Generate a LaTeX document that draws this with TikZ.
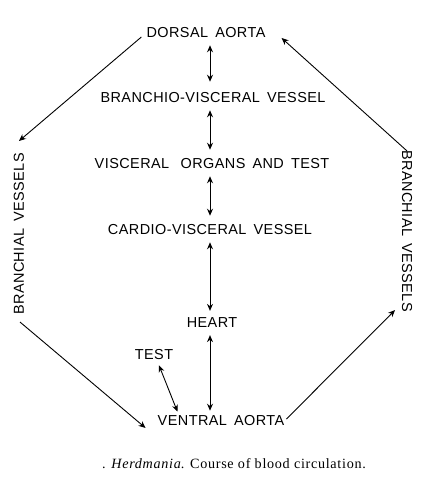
\documentclass[tikz,border=0pt]{standalone}
\usepackage{fontspec}
\setmainfont{Liberation Sans}
\newfontfamily\labfont[LetterSpace=3,WordSpace=1.6]{Liberation Sans}
\newfontfamily\capfont[LetterSpace=5]{Liberation Serif}
\usetikzlibrary{positioning,calc,arrows.meta}
\tikzset{>={Stealth[length=7pt,width=6pt]}}
\tikzset{
  organ/.style={font=\labfont\fontsize{14.5}{16}\selectfont,inner sep=2pt},
  flow/.style={->,line width=0.9pt},
  both/.style={<->,line width=0.9pt}
}

\begin{document}
\begin{tikzpicture}[x=1bp,y=-1bp]
\useasboundingbox (0,0) rectangle (436,489);
% Organs down the middle
\node[organ] (dorsal) at (206,33) {DORSAL AORTA};
\node[organ] (branchio) at (213,98) {BRANCHIO-VISCERAL VESSEL};
\node[organ] (visceral) at (212,164) {VISCERAL\hspace{0.3em} ORGANS AND TEST};
\node[organ] (cardio) at (210,230) {CARDIO-VISCERAL VESSEL};
\node[organ] (heart) at (212,323) {HEART};
\node[organ] (test) at (154,355) {TEST};
\node[organ] (ventral) at (221,421) {VENTRAL AORTA};
\coordinate (axis) at (210,0);

% Branchial vessels on both sides
\node[organ,rotate=90] (leftbr) at (19,234) {BRANCHIAL VESSELS};
\node[organ,rotate=-90] (rightbr) at (407,231) {BRANCHIAL VESSELS};

% Caption
\node[font=\capfont\fontsize{14.2}{16}\selectfont] (caption) at (234,464)
  {. \textit{Herdmania}. Course of blood circulation.};

% Vertical exchanges
\draw[both] ([yshift=-5pt]dorsal.south -| axis) -- ([yshift=9pt]branchio.north -| axis);
\draw[both] ([yshift=-5pt]branchio.south -| axis) -- ([yshift=7pt]visceral.north -| axis);
\draw[both] ([yshift=-5pt]visceral.south -| axis) -- ([yshift=7pt]cardio.north -| axis);
\draw[both] ([yshift=-5pt]cardio.south -| axis) -- ([yshift=5pt]heart.north -| axis);
\draw[both] ([yshift=-5pt]heart.south -| axis) -- ([yshift=3pt]ventral.north -| axis);
\coordinate (vt) at ([xshift=22pt,yshift=2pt]ventral.north west);
\draw[both] ([xshift=5pt,yshift=-3pt]test.south) -- (vt);

% Round the outside
\coordinate (dl) at ([xshift=-3pt,yshift=-4pt]dorsal.west);
\coordinate (dr) at ([xshift=14pt,yshift=-5pt]dorsal.east);
\coordinate (vl) at ([xshift=-10pt,yshift=-7pt]ventral.west);
\draw[flow] (dl) -- ([yshift=10pt]leftbr.east);
\draw[flow] ([xshift=1pt,yshift=-5pt]leftbr.west) -- (vl);
\draw[flow] ([yshift=2pt]ventral.east) -- ([xshift=-12pt,yshift=4pt]rightbr.east);
\draw[flow] ([yshift=-3pt]rightbr.west) -- (dr);
\end{tikzpicture}
\end{document}
